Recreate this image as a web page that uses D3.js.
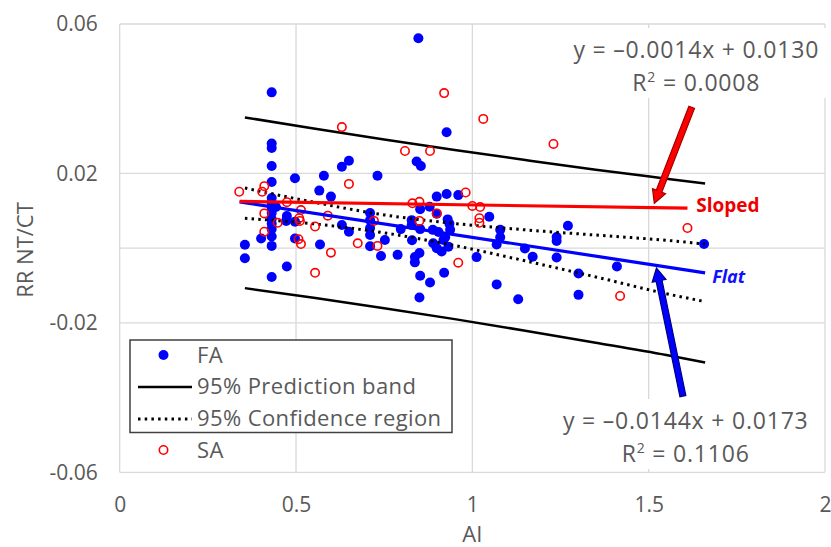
<!DOCTYPE html>
<html lang="en">
<head>
<meta charset="utf-8">
<title>RR NT/CT vs AI</title>
<script src="https://cdn.jsdelivr.net/npm/d3@7"></script>
<style>
  body { margin: 0; background: #fff; }
  text { font-family: "Open Sans", sans-serif; }
</style>
</head>
<body>
<script>
// FA points (filled blue)
var faAI = [0.355, 0.355, 0.401, 0.431, 0.431, 0.431, 0.431, 0.431,
            0.431, 0.431, 0.431, 0.431, 0.431, 0.431, 0.431, 0.431, 0.431,
            0.443, 0.431, 0.474, 0.472, 0.474, 0.497, 0.497, 0.497,
            0.566, 0.579, 0.599, 0.568, 0.630, 0.650, 0.630, 0.650, 0.731,
            0.710, 0.710, 0.710, 0.710, 0.710, 0.752, 0.741, 0.788, 0.797,
            0.828, 0.828, 0.829, 0.842, 0.854, 0.852, 0.879, 0.899, 0.927, 0.960,
            0.899, 0.930, 0.935, 0.937, 0.852, 0.888, 0.904, 0.923, 0.918,
            0.889, 0.899, 0.913, 0.932, 0.837, 0.837, 0.850, 0.852, 0.880,
            0.920, 0.850, 0.927, 0.847, 1.012, 1.048, 1.079, 1.079, 1.069,
            1.069, 1.130, 1.149, 1.171, 1.239, 1.239, 1.239, 1.271, 1.301,
            1.301, 1.410, 1.657];
var faRR = [0.0009, -0.0027, 0.0026, 0.0417, 0.0280, 0.0268, 0.0220, 0.0177,
            0.0134, 0.0121, 0.0108, 0.0094, 0.0078, 0.0065, 0.0051, 0.0031, 0.0006,
            0.0110, -0.0077, 0.0086, 0.0073, -0.0049, 0.0187, 0.0071, 0.0026,
            0.0154, 0.0194, 0.0138, 0.0010, 0.0218, 0.0234, 0.0062, 0.0044, 0.0194,
            0.0094, 0.0075, 0.0054, 0.0035, 0.0005, 0.0022, -0.0021, -0.0018, 0.0051,
            0.0075, 0.0062, 0.0021, 0.0232, 0.0220, 0.0104, 0.0111, 0.0138, 0.0145, 0.0142,
            0.0092, 0.0077, 0.0065, 0.0049, 0.0051, 0.0049, 0.0043, 0.0029, 0.0022,
            0.0013, 0.0000, -0.0009, 0.0004, -0.0024, -0.0038, -0.0013, -0.0074, -0.0092,
            -0.0066, -0.0132, 0.0310, 0.0562, -0.0024, 0.0084, 0.0049, 0.0029, 0.0010,
            -0.0097, -0.0137, -0.0001, -0.0023, 0.0030, 0.0019, -0.0025, 0.0060, -0.0068,
            -0.0125, -0.0049, 0.0011];

// SA points (open red)
var saAI = [0.339, 0.410, 0.404, 0.410, 0.410, 0.448, 0.474, 0.514, 0.509,
            0.511, 0.507, 0.514, 0.554, 0.554, 0.590, 0.599, 0.630, 0.650,
            0.675, 0.721, 0.731, 0.809, 0.880, 0.830, 0.850, 0.850, 0.899,
            0.920, 0.960, 0.981, 1.000, 1.022, 1.020, 1.020, 1.031, 1.230,
            1.419, 1.610];
var saRR = [0.0151, 0.0166, 0.0151, 0.0093, 0.0044, 0.0068, 0.0123, 0.0102, 0.0080,
            0.0073, 0.0024, 0.0011, 0.0058, -0.0066, 0.0087, -0.0012, 0.0324, 0.0172,
            0.0013, 0.0073, 0.0006, 0.0260, 0.0260, 0.0120, 0.0124, 0.0073, 0.0093,
            0.0415, -0.0039, 0.0149, 0.0113, 0.0110, 0.0080, 0.0068, 0.0346, 0.0279,
            -0.0128, 0.0054];

// band curves at these AI values
var bandAI    = [0.355, 0.55, 0.75, 0.95, 1.15, 1.35, 1.55, 1.66];
var predUpper = [0.0350, 0.0320, 0.0291, 0.0263, 0.0236, 0.0210, 0.0186, 0.0173];
var predLower = [-0.0107, -0.0133, -0.0161, -0.0190, -0.0221, -0.0253, -0.0286, -0.0306];
var confUpper = [0.0161, 0.0123, 0.0089, 0.0066, 0.0049, 0.0035, 0.0021, 0.0011];
var confLower = [0.0080, 0.0065, 0.0041, 0.0007, -0.0034, -0.0077, -0.0122, -0.0143];

// trend lines
var flatAI = [0.34, 1.66];
var flatRR = [0.0124, -0.0066];
var slopedAI = [0.34, 1.61];
var slopedRR = [0.0125, 0.0107];

var xTicks = [0, 0.5, 1, 1.5, 2];
var yTicks = [0.06, 0.02, -0.02, -0.06];
var yTickLabels = ["0.06", "0.02", "-0.02", "-0.06"];

var w = 831, h = 547;
var grey = "#595959", gridCol = "#d9d9d9";

var svg = d3.select("body").append("svg")
    .attr("width", w)
    .attr("height", h);

var x = d3.scaleLinear().domain([0, 2]).range([119.7, 825]);
var y = d3.scaleLinear().domain([-0.06, 0.06]).range([472.3, 24]);

// gridlines (plus the horizontal axis line at 0)
svg.selectAll("line.vg")
   .data(xTicks)
   .enter().append("line")
   .attr("class", "vg")
   .attr("x1", function(d) { return x(d); })
   .attr("x2", function(d) { return x(d); })
   .attr("y1", y(0.06))
   .attr("y2", y(-0.06))
   .attr("stroke", gridCol)
   .attr("stroke-width", 1.3);
svg.selectAll("line.hg")
   .data(yTicks.concat([0]))
   .enter().append("line")
   .attr("class", "hg")
   .attr("x1", x(0))
   .attr("x2", x(2))
   .attr("y1", function(d) { return y(d); })
   .attr("y2", function(d) { return y(d); })
   .attr("stroke", gridCol)
   .attr("stroke-width", 1.3);

// axes
var yAxis = svg.append("g")
    .attr("transform", "translate(" + x(0) + ",0)")
    .call(d3.axisLeft(y).tickValues(yTicks).tickSize(0).tickPadding(22)
          .tickFormat(function(d, i) { return yTickLabels[i]; }));
var xAxis = svg.append("g")
    .attr("transform", "translate(0," + y(-0.06) + ")")
    .call(d3.axisBottom(x).tickValues(xTicks).tickSize(0).tickPadding(25)
          .tickFormat(function(d) { return String(d); }));
[yAxis, xAxis].forEach(function(a) {
    a.select(".domain").remove();
    a.selectAll("text")
     .attr("fill", grey)
     .attr("font-size", "21px")
     .attr("font-family", "'Open Sans', sans-serif");
});

svg.append("text")
   .attr("transform", "translate(33,250) rotate(-90)")
   .attr("text-anchor", "middle")
   .attr("font-size", "22px")
   .attr("fill", grey)
   .text("RR NT/CT");
svg.append("text")
   .attr("x", x(1))
   .attr("y", 542)
   .attr("text-anchor", "middle")
   .attr("font-size", "22px")
   .attr("fill", grey)
   .text("AI");

// FA points
svg.append("g").selectAll("circle")
   .data(faAI)
   .enter().append("circle")
   .attr("cx", function(d) { return x(d); })
   .attr("cy", function(d, i) { return y(faRR[i]); })
   .attr("r", 5)
   .attr("fill", "#0000ff");

// bands
var bandLine = function(vals) {
    return d3.line()
        .x(function(d) { return x(d); })
        .y(function(d, i) { return y(vals[i]); })
        .curve(d3.curveMonotoneX)(bandAI);
};
[predUpper, predLower].forEach(function(v) {
    svg.append("path")
       .attr("d", bandLine(v))
       .attr("fill", "none")
       .attr("stroke", "#000")
       .attr("stroke-width", 2.5);
});
[confUpper, confLower].forEach(function(v) {
    svg.append("path")
       .attr("d", bandLine(v))
       .attr("fill", "none")
       .attr("stroke", "#000")
       .attr("stroke-width", 3)
       .attr("stroke-dasharray", "2.5,4.2");
});

// SA points
svg.append("g").selectAll("circle")
   .data(saAI)
   .enter().append("circle")
   .attr("cx", function(d) { return x(d); })
   .attr("cy", function(d, i) { return y(saRR[i]); })
   .attr("r", 4.2)
   .attr("fill", "none")
   .attr("stroke", "#ff0000")
   .attr("stroke-width", 1.6);

// trend lines
var trend = function(xs, ys, col) {
    svg.append("line")
       .attr("x1", x(xs[0])).attr("y1", y(ys[0]))
       .attr("x2", x(xs[1])).attr("y2", y(ys[1]))
       .attr("stroke", col)
       .attr("stroke-width", 3.2);
};
trend(flatAI, flatRR, "#0000ff");
trend(slopedAI, slopedRR, "#ff0000");

svg.append("text")
   .attr("x", x(1.635)).attr("y", y(0.0096))
   .attr("font-size", "19px").attr("font-weight", "bold")
   .attr("fill", "#ee0000")
   .text("Sloped");
svg.append("text")
   .attr("x", x(1.68)).attr("y", y(-0.0093))
   .attr("font-size", "18px").attr("font-weight", "bold")
   .attr("font-style", "italic")
   .attr("fill", "#1010ff")
   .text("Flat");

// equation labels with white boxes
function equation(cx, by, eq, r2) {
    svg.append("rect")
       .attr("x", x(cx) - 130).attr("y", by - 30)
       .attr("width", 260).attr("height", 70)
       .attr("fill", "#fff");
    svg.append("text")
       .attr("x", x(cx)).attr("y", by)
       .attr("text-anchor", "middle")
       .attr("font-size", "23px")
       .attr("letter-spacing", "0.8px")
       .attr("fill", grey)
       .text(eq);
    var t = svg.append("text")
       .attr("x", x(cx)).attr("y", by + 33)
       .attr("text-anchor", "middle")
       .attr("font-size", "23px")
       .attr("letter-spacing", "0.8px")
       .attr("fill", grey);
    t.append("tspan").text("R");
    t.append("tspan").attr("font-size", "14px").attr("dy", -9).text("2");
    t.append("tspan").attr("dy", 9).text(" = " + r2);
}
equation(1.635, 58, "y = \u20130.0014x + 0.0130", "0.0008");
equation(1.605, 429, "y = \u20130.0144x + 0.0173", "0.1106");

// block arrows
function arrow(x0, y0, x1, y1, fill, edge) {
    var px0 = x(x0), py0 = y(y0), px1 = x(x1), py1 = y(y1);
    var dx = px1 - px0, dy = py1 - py0, L = Math.sqrt(dx * dx + dy * dy);
    var ux = dx / L, uy = dy / L, nx = -uy, ny = ux;
    var sw = 3, hw = 7, hl = 13;
    var bx = px1 - ux * hl, by = py1 - uy * hl;
    var pts = [
        [px0 + nx * sw, py0 + ny * sw],
        [bx + nx * sw, by + ny * sw],
        [bx + nx * hw, by + ny * hw],
        [px1, py1],
        [bx - nx * hw, by - ny * hw],
        [bx - nx * sw, by - ny * sw],
        [px0 - nx * sw, py0 - ny * sw]
    ];
    svg.append("polygon")
       .attr("points", pts.map(function(p) { return p.join(","); }).join(" "))
       .attr("fill", fill)
       .attr("stroke", edge)
       .attr("stroke-width", 1.2)
       .attr("stroke-linejoin", "miter");
}
arrow(1.622, 0.0377, 1.516, 0.0120, "#ff0000", "#a00000");
arrow(1.597, -0.0396, 1.522, -0.0053, "#0000ff", "#000080");

// legend
var lg = svg.append("g");
lg.append("rect")
  .attr("x", 130).attr("y", 340)
  .attr("width", 322).attr("height", 92.5)
  .attr("fill", "#fff")
  .attr("stroke", "#404040")
  .attr("stroke-width", 1.5);
var legendRows = ["FA", "95% Prediction band", "95% Confidence region", "SA"];
lg.selectAll("text")
  .data(legendRows)
  .enter().append("text")
  .attr("x", 197)
  .attr("y", function(d, i) { return 362.5 + i * 31.7; })
  .attr("font-size", "22px")
  .attr("letter-spacing", "0.4px")
  .attr("fill", grey)
  .text(function(d) { return d; });
lg.append("circle").attr("cx", 163.5).attr("cy", 355).attr("r", 5).attr("fill", "#0000ff");
lg.append("line").attr("x1", 138).attr("x2", 192).attr("y1", 387).attr("y2", 387)
  .attr("stroke", "#000").attr("stroke-width", 2.5);
lg.append("line").attr("x1", 138).attr("x2", 192).attr("y1", 419).attr("y2", 419)
  .attr("stroke", "#000").attr("stroke-width", 3).attr("stroke-dasharray", "2.5,4.2");
lg.append("circle").attr("cx", 163.5).attr("cy", 450).attr("r", 4.2)
  .attr("fill", "none").attr("stroke", "#ff0000").attr("stroke-width", 1.6);
</script>
</body>
</html>
